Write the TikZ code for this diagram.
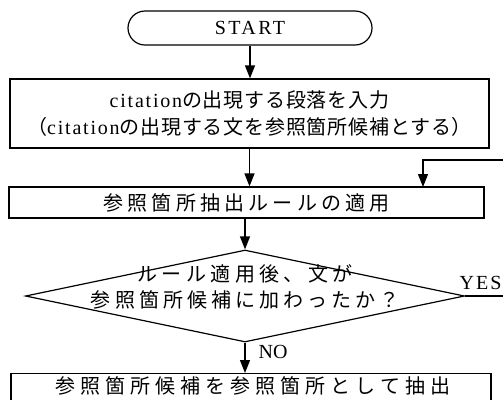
\documentclass[tikz,border=0pt]{standalone}
\usepackage{fontspec}
\setmainfont{Liberation Serif}
\newfontfamily\jpfont{Noto Sans CJK JP}
\usetikzlibrary{arrows.meta,shapes.geometric}
\newcommand\jw[2]{{\jpfont\addfontfeature{LetterSpace=#1}#2}}
\newcommand\lw[2]{{\addfontfeature{LetterSpace=#1}#2}}
\begin{document}
\begin{tikzpicture}[x=1bp,y=-1bp,
  line width=1.2bp,
  box/.style={draw, rectangle, inner sep=0pt},
  arr/.style={-{Triangle[length=13bp,width=10bp]}},
  lat/.style={font=\fontsize{20bp}{22bp}\selectfont, inner sep=0pt},
  jtxt/.style={font=\fontsize{20bp}{27bp}\selectfont, align=center},
  jtxtb/.style={font=\fontsize{20bp}{26bp}\selectfont, align=center}]
\useasboundingbox (0,0) rectangle (503,399);
\clip (0,0) rectangle (503,399);
% terminal
\node[box, minimum width=244bp, minimum height=34bp, rounded corners=17bp, lat] (start) at (250,28) {\lw{12}{START}};
% input box
\node[box, minimum width=479bp, minimum height=69bp, jtxt] (box1) at (249.5,113.5)
  {\lw{9}{citation}\jw{4}{の出現する段落を入力}\\\jw{4}{（}\lw{9}{citation}\jw{4}{の出現する文を参照箇所候補とする）}};
% rule box
\node[box, minimum width=475bp, minimum height=31bp, jtxt] (box2) at (246.5,202.5)
  {\jw{21}{参照箇所抽出ルールの適用}};
% decision
\node[draw, diamond, minimum width=439bp, minimum height=92bp, inner sep=0pt] (dia) at (245,296) {};
\node[jtxtb, inner sep=0pt] (q) at (245,287)
  {\jw{22}{ルール適用後、文が}\\\jw{20}{参照箇所候補に加わったか？}};
% output box
\node[box, minimum width=480bp, minimum height=50bp, anchor=north] (out) at (251,373) {};
\node[jtxt, inner sep=0pt] (outt) at (253,386) {\jw{25}{参照箇所候補を参照箇所として抽出}};
% labels
\node[lat, anchor=west] (no) at (258,352) {NO};
\node[lat, anchor=base west] (yes) at (459,289) {\lw{10}{YES}};
% connectors
\coordinate (rt) at (515,160);
\coordinate (in) at (423,187);
\draw[arr] (start.south) -- (start.south |- box1.north);
\draw[arr] (box1.south) -- (box1.south |- box2.north);
\draw[arr] (box2.south -| dia.north) -- (dia.north);
\draw[arr] (dia.south) -- (dia.south |- out.north);
\draw[arr] (dia.east) -- (rt |- dia.east) -- (rt) -| (in);
\end{tikzpicture}
\end{document}
